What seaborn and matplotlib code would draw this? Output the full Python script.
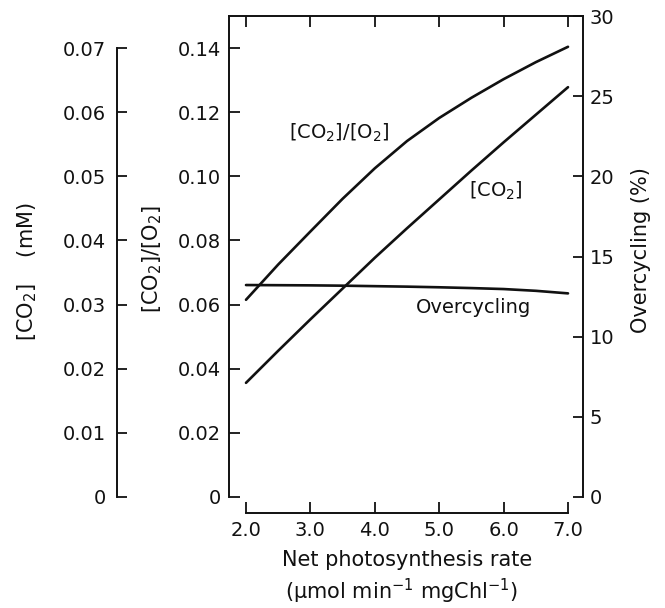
import numpy as np
import pandas as pd
import matplotlib
matplotlib.use("Agg")
import matplotlib.pyplot as plt
import seaborn as sns

# ---- data ----
rate = [2.0, 2.5, 3.0, 3.5, 4.0, 4.5, 5.0, 5.5, 6.0, 6.5, 7.0]
ratio_co2_o2 = [0.0615, 0.0725, 0.0828, 0.0930, 0.1025, 0.1110, 0.1182, 0.1245, 0.1303, 0.1356, 0.1404]
co2_mM = [0.0178, 0.0228, 0.0277, 0.0325, 0.0373, 0.0419, 0.0464, 0.0509, 0.0553, 0.0596, 0.0639]
overcycling = [13.22, 13.21, 13.20, 13.18, 13.15, 13.12, 13.08, 13.03, 12.97, 12.86, 12.70]

x_ticks = [2.0, 3.0, 4.0, 5.0, 6.0, 7.0]
x_ticklabels = ["2.0", "3.0", "4.0", "5.0", "6.0", "7.0"]
ratio_ticks = [0, 0.02, 0.04, 0.06, 0.08, 0.10, 0.12, 0.14]
ratio_ticklabels = ["0", "0.02", "0.04", "0.06", "0.08", "0.10", "0.12", "0.14"]
co2_ticks = [0, 0.01, 0.02, 0.03, 0.04, 0.05, 0.06, 0.07]
co2_ticklabels = ["0", "0.01", "0.02", "0.03", "0.04", "0.05", "0.06", "0.07"]
oc_ticks = [0, 5, 10, 15, 20, 25, 30]
oc_ticklabels = ["0", "5", "10", "15", "20", "25", "30"]

df = pd.DataFrame({"rate": rate, "ratio": ratio_co2_o2, "co2": co2_mM, "oc": overcycling})

sns.set_style("ticks")
plt.rcParams["font.family"] = ["DejaVu Sans"]
plt.rcParams["mathtext.fontset"] = "dejavusans"
FS = 14
FL = 15
LW = 1.9
BLACK = "#111111"

fig = plt.figure(figsize=(6.65, 6.08), dpi=100)
ax = fig.add_axes([229/665, 1-497/608, (583-229)/665, (497-16)/608])
ax.set_facecolor("white")

# main axis: [CO2]/[O2]
sns.lineplot(data=df, x="rate", y="ratio", ax=ax, color=BLACK, lw=LW)
ax.set_xlim(2 - 17/64.4, 7 + 15/64.4)
ax.set_ylim(0, 0.15)
ax.set_yticks(ratio_ticks)
ax.set_yticklabels(ratio_ticklabels)
ax.set_xticks(x_ticks)
ax.set_xticklabels(x_ticklabels)
ax.set_xlabel("")
ax.set_ylabel("")
ax.spines["bottom"].set_position(("outward", 11.5))
ax.spines["bottom"].set_bounds(2.0, 7.0)
ax.spines["right"].set_visible(False)
ax.spines["left"].set_bounds(0, 0.15)
ax.tick_params(axis="y", direction="in", length=8, width=1.3, labelsize=FS, pad=6, colors=BLACK)
ax.tick_params(axis="x", direction="in", length=8, width=1.3, labelsize=FS, pad=6,
               top=True, colors=BLACK)
for s in ax.spines.values():
    s.set_linewidth(1.4)
    s.set_color(BLACK)

# right axis: overcycling
axr = ax.twinx()
sns.lineplot(data=df, x="rate", y="oc", ax=axr, color=BLACK, lw=LW)
axr.set_ylim(0, 30)
axr.set_yticks(oc_ticks)
axr.set_yticklabels(oc_ticklabels)
axr.set_ylabel("")
for k in ["left", "top", "bottom"]:
    axr.spines[k].set_visible(False)
axr.spines["right"].set_linewidth(1.4)
axr.spines["right"].set_color(BLACK)
axr.tick_params(axis="y", direction="in", length=7, width=1.3, labelsize=FS, pad=5, colors=BLACK)

# outer left axis: [CO2] (mM)
axl = ax.twinx()
sns.lineplot(data=df, x="rate", y="co2", ax=axl, color=BLACK, lw=LW)
axl.set_ylim(0, 0.075)
axl.yaxis.set_ticks_position("left")
axl.yaxis.set_label_position("left")
axl.spines["left"].set_position(("axes", (117-229)/354))
axl.spines["left"].set_bounds(0, 0.07)
for k in ["right", "top", "bottom"]:
    axl.spines[k].set_visible(False)
axl.spines["left"].set_linewidth(1.4)
axl.spines["left"].set_color(BLACK)
axl.set_yticks(co2_ticks)
axl.set_yticklabels(co2_ticklabels)
axl.set_ylabel("")
axl.tick_params(axis="y", direction="in", length=7, width=1.3, labelsize=FS, pad=8, colors=BLACK)
axl.set_xlim(ax.get_xlim())

# curve labels
ax.text(3.45, 0.1135, r"[CO$_2$]/[O$_2$]", fontsize=FS, ha="center", va="center", color=BLACK)
axl.text(5.88, 0.0478, r"[CO$_2$]", fontsize=FS, ha="center", va="center", color=BLACK)
axr.text(5.53, 11.8, "Overcycling", fontsize=FS, ha="center", va="center", color=BLACK)

# axis titles
fig.text(27/665, 1-272/608, r"[CO$_2$]    (mM)", rotation=90, fontsize=FL,
         ha="center", va="center", color=BLACK)
fig.text(152/665, 1-259/608, r"[CO$_2$]/[O$_2$]", rotation=90, fontsize=FL,
         ha="center", va="center", color=BLACK)
fig.text(641/665, 1-250/608, "Overcycling (%)", rotation=90, fontsize=FL,
         ha="center", va="center", color=BLACK)
fig.text(407/665, 1-560/608, "Net photosynthesis rate", fontsize=FL,
         ha="center", va="center", color=BLACK)
fig.text(402/665, 1-591/608, r"(μmol min$^{-1}$ mgChl$^{-1}$)", fontsize=FL,
         ha="center", va="center", color=BLACK)

fig.savefig("out.png", dpi=100, facecolor="white")
